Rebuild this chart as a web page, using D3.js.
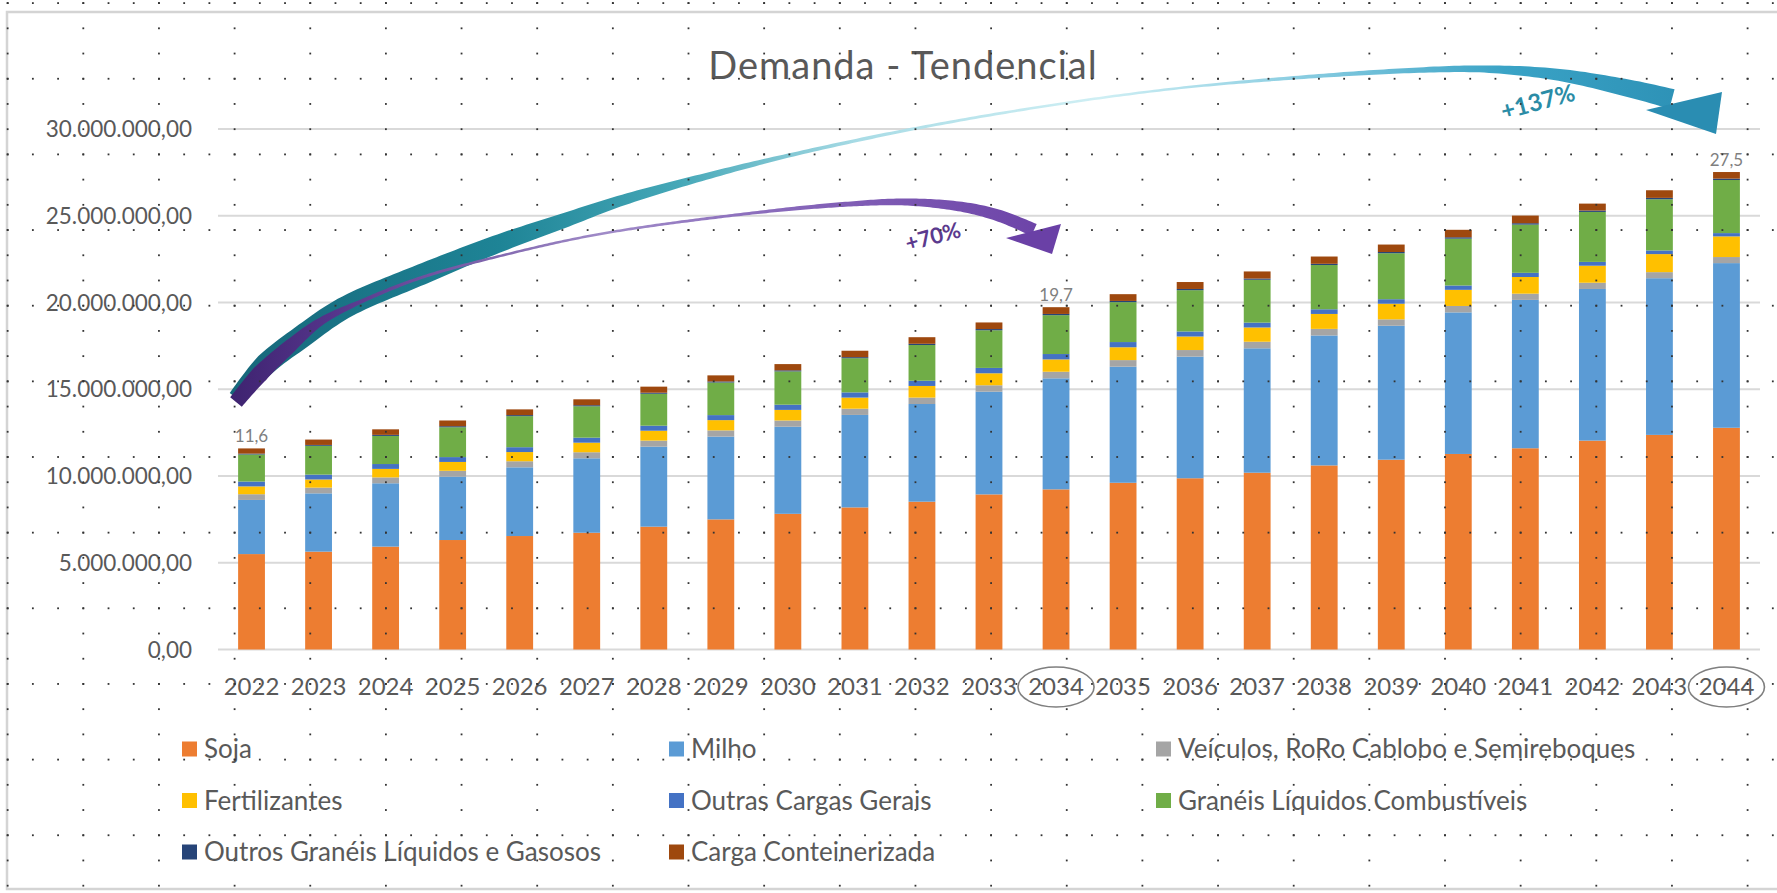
<!DOCTYPE html>
<html><head><meta charset="utf-8">
<script src="https://cdn.jsdelivr.net/npm/d3@7"></script>
<style>
html,body{margin:0;padding:0;background:#fff;overflow:hidden}
svg{display:block}
text{font-family:Lato,"Open Sans",sans-serif}
</style></head><body>
<svg id="chart" width="1777" height="893"></svg>
<script>
// ---------- DATA (million tonnes) ----------
const years = ["2022","2023","2024","2025","2026","2027","2028","2029","2030","2031","2032","2033","2034","2035","2036","2037","2038","2039","2040","2041","2042","2043","2044"];
const soja          = [5.50,5.64,5.93,6.31,6.54,6.73,7.08,7.50,7.82,8.19,8.52,8.94,9.23,9.61,9.87,10.19,10.61,10.94,11.27,11.60,12.04,12.37,12.78];
const milho         = [3.12,3.36,3.65,3.65,3.96,4.29,4.61,4.77,5.02,5.33,5.63,5.92,6.40,6.69,7.01,7.17,7.49,7.72,8.16,8.55,8.74,9.03,9.49];
const veiculos      = [0.33,0.33,0.34,0.34,0.35,0.35,0.35,0.36,0.36,0.36,0.37,0.37,0.38,0.38,0.38,0.38,0.38,0.37,0.37,0.36,0.36,0.35,0.35];
const fertilizantes = [0.45,0.47,0.49,0.51,0.53,0.55,0.57,0.59,0.61,0.64,0.67,0.69,0.71,0.74,0.78,0.82,0.86,0.90,0.93,0.96,0.98,1.04,1.19];
const outrasCargas  = [0.28,0.28,0.28,0.28,0.28,0.29,0.29,0.29,0.30,0.30,0.30,0.31,0.31,0.30,0.29,0.28,0.27,0.26,0.25,0.24,0.22,0.21,0.19];
const graneisComb   = [1.56,1.66,1.62,1.72,1.79,1.81,1.84,1.88,1.92,1.97,2.06,2.17,2.24,2.30,2.38,2.47,2.55,2.65,2.70,2.78,2.88,2.95,3.06];
const outrosGraneis = [0.05,0.05,0.06,0.06,0.06,0.06,0.06,0.06,0.06,0.06,0.07,0.07,0.07,0.07,0.07,0.07,0.07,0.07,0.08,0.08,0.08,0.08,0.08];
const cargaCont     = [0.30,0.31,0.32,0.33,0.33,0.34,0.35,0.35,0.36,0.37,0.38,0.38,0.39,0.39,0.40,0.41,0.42,0.43,0.43,0.44,0.40,0.44,0.38];

const seriesNames = ["Soja","Milho","Veículos, RoRo Cablobo e Semireboques","Fertilizantes","Outras Cargas Gerais","Granéis Líquidos Combustíveis","Outros Granéis Líquidos e Gasosos","Carga Conteinerizada"];
const seriesValues = [soja, milho, veiculos, fertilizantes, outrasCargas, graneisComb, outrosGraneis, cargaCont];
const seriesColors = ["#ED7D31","#5B9BD5","#A5A5A5","#FFC000","#4472C4","#70AD47","#264478","#9E480E"];
const yTicks = [0,5,10,15,20,25,30];
const labelledYears = ["2022","2034","2044"];
const circledYears = ["2034","2044"];
const titleText = "Demanda - Tendencial";
const growthLabels = ["+70%","+137%"];

// ---------- SETUP ----------
const svg = d3.select("#chart");
const W = 1777, H = 893;
const x = d3.scaleBand().domain(years).range([218,1760]).paddingInner(0.6).paddingOuter(0.3);
const y = d3.scaleLinear().domain([0,30]).range([649.5,129]);
const loc = d3.formatLocale({decimal:",", thousands:".", grouping:[3], currency:["",""]});
const fmtAxis = v => loc.format(",.2f")(v*1e6);
const fmtTot = loc.format(".1f");

const rows = years.map((yr,i)=>{ const o={year:yr}; seriesNames.forEach((n,k)=>o[n]=seriesValues[k][i]); return o; });
const stack = d3.stack().keys(seriesNames)(rows);
const totals = rows.map(r=>d3.sum(seriesNames,n=>r[n]));

// frame
svg.append("rect").attr("x",7).attr("y",12).attr("width",1800).attr("height",877)
  .attr("fill","#fff").attr("stroke","#d4d4d4").attr("stroke-width",2.5);

// gridlines + y labels
const gy = svg.append("g");
gy.selectAll("line").data(yTicks).join("line")
  .attr("x1",218).attr("x2",1760).attr("y1",d=>y(d)).attr("y2",d=>y(d))
  .attr("stroke","#d9d9d9").attr("stroke-width",2);
gy.selectAll("text").data(yTicks).join("text")
  .attr("x",192).attr("y",d=>y(d)).attr("dy","0.36em").attr("text-anchor","end")
  .attr("font-size",22.5).attr("fill","#595959").text(fmtAxis);

// bars
svg.append("g").selectAll("g").data(stack).join("g").attr("fill",(d,i)=>seriesColors[i])
  .selectAll("rect").data(d=>d).join("rect")
  .attr("x",d=>x(d.data.year)).attr("width",x.bandwidth())
  .attr("y",d=>y(d[1])).attr("height",d=>Math.max(0,y(d[0])-y(d[1])));

// total labels
svg.append("g").selectAll("text").data(labelledYears).join("text")
  .attr("x",d=>x(d)+x.bandwidth()/2).attr("y",d=>y(totals[years.indexOf(d)])-6)
  .attr("text-anchor","middle").attr("font-size",17).attr("fill","#7f7f7f")
  .text(d=>fmtTot(totals[years.indexOf(d)]));

// x labels
svg.append("g").selectAll("text").data(years).join("text")
  .attr("x",d=>x(d)+x.bandwidth()/2).attr("y",695).attr("text-anchor","middle")
  .attr("font-size",24).attr("fill","#595959").text(d=>d);

// circles round highlighted years
svg.append("g").selectAll("ellipse").data(circledYears).join("ellipse")
  .attr("cx",d=>x(d)+x.bandwidth()/2).attr("cy",687).attr("rx",38).attr("ry",20)
  .attr("fill","none").attr("stroke","#7f7f7f").attr("stroke-width",1.6);

// title
svg.append("text").attr("x",903).attr("y",79).attr("text-anchor","middle")
  .attr("font-size",38).attr("letter-spacing",1).attr("fill","#595959").text(titleText);

// legend
const legCols = [182,669,1156];
const legRows = [749,800.5,852];
const leg = svg.append("g").selectAll("g").data(seriesNames).join("g")
  .attr("transform",(d,i)=>`translate(${legCols[i%3]},${legRows[Math.floor(i/3)]})`);
leg.append("rect").attr("x",0).attr("y",-7.5).attr("width",15).attr("height",15).attr("fill",(d,i)=>seriesColors[i]);
leg.append("text").attr("x",22).attr("y",9).attr("font-size",26).attr("fill","#595959").text(d=>d);

// ---------- ARROWS ----------
const defs = svg.append("defs");
function grad(id,x1,x2,stops){
  const g = defs.append("linearGradient").attr("id",id).attr("gradientUnits","userSpaceOnUse")
    .attr("x1",x1).attr("x2",x2).attr("y1",0).attr("y2",0);
  stops.forEach(s=>g.append("stop").attr("offset",s[0]).attr("stop-color",s[1]));
}
grad("tealG",230,1730,[[0,"#16677a"],[0.18,"#1e8496"],[0.3,"#46a8b8"],[0.42,"#a9dce6"],[0.58,"#cfeff4"],[0.72,"#86cbe0"],[0.85,"#3aa3c6"],[1,"#2a8db2"]]);
grad("purpG",230,1065,[[0,"#3e2370"],[0.12,"#54348a"],[0.45,"#a08bc8"],[0.7,"#8463b8"],[1,"#6a40a6"]]);

function ribbonPath(xs, ys, ws){
  const pts = xs.map((v,i)=>[v,ys[i]]);
  const tmp = svg.append("path").attr("d", d3.line().curve(d3.curveCatmullRom.alpha(0.5))(pts)).attr("fill","none");
  const node = tmp.node(), L = node.getTotalLength();
  const wOf = d3.scaleLinear().domain(xs).range(ws).clamp(true);
  const N = 300, left=[], right=[];
  for(let i=0;i<=N;i++){
    const l = L*i/N, p = node.getPointAtLength(l);
    const a = node.getPointAtLength(Math.max(0,l-1)), b = node.getPointAtLength(Math.min(L,l+1));
    let dx=b.x-a.x, dy=b.y-a.y; const m=Math.hypot(dx,dy)||1; dx/=m; dy/=m;
    const w = wOf(p.x)/2;
    left.push([p.x-dy*w,p.y+dx*w]); right.push([p.x+dy*w,p.y-dx*w]);
  }
  tmp.remove();
  return "M"+left.concat(right.reverse()).map(p=>p.join(",")).join("L")+"Z";
}
const arrows = svg.append("g");
// teal (+137%)
const tX = [236,265,300,344,420,500,560,620,700,791,918,1059,1180,1292,1400,1483,1560,1636,1672];
const tY = [398,365,338,308,275,243,222,201,178,155,128,104,88,78,71,69,75,90,99];
const tW = [16,22,23,22,21,18,15,11,7,4,3,2.5,2.5,3.5,5,7,12,18,20];
arrows.append("path").attr("d",ribbonPath(tX,tY,tW)).attr("fill","url(#tealG)");
arrows.append("path").attr("d","M1722,92L1716,134L1646,110Z").attr("fill","#2a8db2");
// purple (+70%)
const pX = [236,260,288,320,360,420,500,600,753,850,906,963,1000,1034];
const pY = [402,374,348,322,302,278,256,234,213,204,202,207,216,230];
const pW = [15,17,14,8,4,3,2.5,2.5,3,5,7,10,12,13];
arrows.append("path").attr("d",ribbonPath(pX,pY,pW)).attr("fill","url(#purpG)");
arrows.append("path").attr("d","M1061,224L1052,254L1006,238Z").attr("fill","#6a40a6");

svg.append("text").attr("transform","translate(935,244) rotate(-15)").attr("text-anchor","middle")
  .attr("font-size",22).attr("font-weight",700).attr("fill","#5b3a8e").text(growthLabels[0]);
svg.append("text").attr("transform","translate(1540,110) rotate(-15)").attr("text-anchor","middle")
  .attr("font-size",24).attr("font-weight",700).attr("fill","#2b8ca6").text(growthLabels[1]);

// ---------- DOT GRID (slide grid overlay) ----------
const step = 75.65, minor = step/3, x0 = 7.65, yRef = 608.3;
const dots = [];
for(let gx=x0; gx<=W; gx+=step){
  for(let gyv=yRef - Math.ceil(yRef/minor)*minor; gyv<=H; gyv+=minor) dots.push([gx,gyv]);
}
for(let gyv=yRef - Math.floor(yRef/step)*step; gyv<=H; gyv+=step){
  for(let gx=x0; gx<=W; gx+=minor) dots.push([gx,gyv]);
}
svg.append("g").selectAll("rect").data(dots).join("rect")
  .attr("x",d=>d[0]-0.9).attr("y",d=>d[1]-0.9).attr("width",1.8).attr("height",1.8).attr("fill","#333");
</script>
</body></html>
